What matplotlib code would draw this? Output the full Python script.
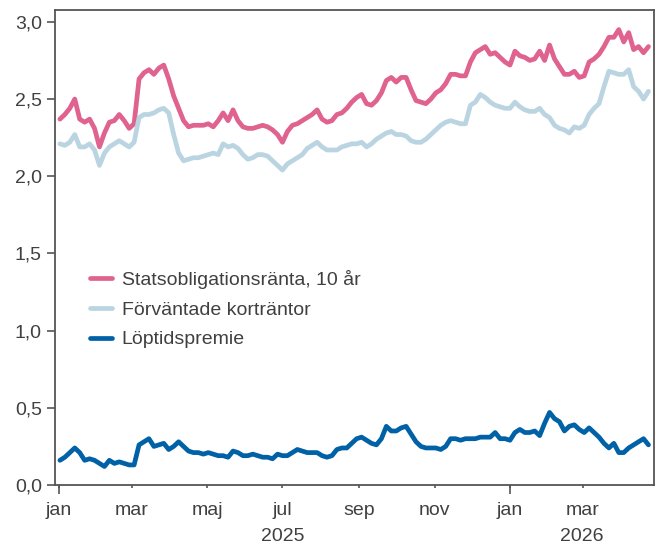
import matplotlib
matplotlib.use('Agg')
import matplotlib.pyplot as plt
import matplotlib.transforms as mtransforms
from matplotlib.ticker import FuncFormatter
import pandas as pd

plt.rcParams['font.family'] = ['Liberation Sans', 'DejaVu Sans']

##############################################
##                  Data                    ##
##############################################
# observations every fourth day, 2 Jan 2025 - 23 Apr 2026
dates = pd.date_range('2025-01-02', periods=120, freq='4D')

statsobligation = [
    2.37, 2.40, 2.44, 2.50, 2.37, 2.35, 2.37, 2.31, 2.19, 2.28,
    2.35, 2.36, 2.40, 2.36, 2.31, 2.34, 2.63, 2.67, 2.69, 2.66,
    2.70, 2.72, 2.63, 2.52, 2.44, 2.36, 2.32, 2.33, 2.33, 2.33,
    2.34, 2.32, 2.36, 2.41, 2.36, 2.43, 2.36, 2.32, 2.31, 2.31,
    2.32, 2.33, 2.32, 2.30, 2.27, 2.22, 2.29, 2.33, 2.34, 2.36,
    2.38, 2.40, 2.43, 2.37, 2.35, 2.36, 2.40, 2.41, 2.44, 2.48,
    2.51, 2.53, 2.47, 2.46, 2.49, 2.54, 2.62, 2.64, 2.61, 2.64,
    2.64, 2.56, 2.49, 2.48, 2.47, 2.50, 2.54, 2.56, 2.60, 2.66,
    2.66, 2.65, 2.65, 2.74, 2.80, 2.82, 2.84, 2.79, 2.80, 2.77,
    2.74, 2.72, 2.81, 2.78, 2.77, 2.75, 2.76, 2.81, 2.75, 2.85,
    2.76, 2.71, 2.66, 2.66, 2.68, 2.64, 2.65, 2.74, 2.76, 2.79,
    2.84, 2.90, 2.90, 2.95, 2.87, 2.93, 2.82, 2.84, 2.80, 2.84,
]

korta_rantor = [
    2.21, 2.20, 2.22, 2.27, 2.19, 2.19, 2.21, 2.17, 2.07, 2.15,
    2.19, 2.21, 2.23, 2.21, 2.19, 2.22, 2.38, 2.40, 2.40, 2.41,
    2.43, 2.44, 2.41, 2.27, 2.15, 2.10, 2.11, 2.12, 2.12, 2.13,
    2.14, 2.15, 2.14, 2.21, 2.19, 2.20, 2.18, 2.14, 2.11, 2.12,
    2.14, 2.14, 2.13, 2.10, 2.07, 2.04, 2.08, 2.10, 2.12, 2.14,
    2.18, 2.20, 2.22, 2.19, 2.17, 2.17, 2.17, 2.19, 2.20, 2.21,
    2.21, 2.22, 2.19, 2.21, 2.24, 2.26, 2.28, 2.29, 2.27, 2.27,
    2.26, 2.23, 2.22, 2.22, 2.24, 2.27, 2.30, 2.33, 2.35, 2.36,
    2.35, 2.34, 2.34, 2.46, 2.48, 2.53, 2.51, 2.48, 2.46, 2.45,
    2.44, 2.44, 2.48, 2.45, 2.43, 2.42, 2.42, 2.44, 2.40, 2.38,
    2.33, 2.31, 2.30, 2.28, 2.32, 2.31, 2.33, 2.40, 2.44, 2.47,
    2.58, 2.68, 2.67, 2.66, 2.66, 2.69, 2.58, 2.55, 2.50, 2.55,
]

loptidspremie = [
    0.16, 0.18, 0.21, 0.24, 0.21, 0.16, 0.17, 0.16, 0.14, 0.12,
    0.16, 0.14, 0.15, 0.14, 0.13, 0.13, 0.26, 0.28, 0.30, 0.25,
    0.26, 0.27, 0.23, 0.25, 0.28, 0.25, 0.22, 0.21, 0.21, 0.20,
    0.21, 0.20, 0.19, 0.19, 0.18, 0.22, 0.21, 0.19, 0.19, 0.20,
    0.19, 0.18, 0.18, 0.17, 0.20, 0.19, 0.19, 0.21, 0.23, 0.22,
    0.21, 0.21, 0.21, 0.19, 0.18, 0.19, 0.23, 0.24, 0.24, 0.27,
    0.30, 0.31, 0.29, 0.27, 0.26, 0.30, 0.38, 0.35, 0.35, 0.37,
    0.38, 0.33, 0.28, 0.25, 0.24, 0.24, 0.24, 0.23, 0.25, 0.30,
    0.30, 0.29, 0.30, 0.30, 0.30, 0.31, 0.31, 0.31, 0.34, 0.30,
    0.30, 0.29, 0.34, 0.36, 0.34, 0.34, 0.35, 0.32, 0.40, 0.47,
    0.43, 0.41, 0.35, 0.38, 0.39, 0.36, 0.34, 0.37, 0.34, 0.31,
    0.27, 0.24, 0.27, 0.21, 0.21, 0.24, 0.26, 0.28, 0.30, 0.26,
]

labels = ['Statsobligationsränta, 10 år', 'Förväntade korträntor', 'Löptidspremie']

month_ticks = pd.to_datetime(['2025-01-01', '2025-03-01', '2025-05-01', '2025-07-01',
                              '2025-09-01', '2025-11-01', '2026-01-01', '2026-03-01'])
month_labels = ['jan', 'mar', 'maj', 'jul', 'sep', 'nov', 'jan', 'mar']
year_ticks = pd.to_datetime(['2025-01-01', '2026-01-01'])
year_labels = ['2025', '2026']
y_ticks = [0.0, 0.5, 1.0, 1.5, 2.0, 2.5, 3.0]

##############################################
##                  Plot                    ##
##############################################
text_col = '#404040'
spine_col = '#555555'
fs = 14

fig = plt.figure(figsize=(6.56, 5.46), dpi=100)
ax = fig.add_axes([0.0838, 0.1117, 0.9132, 0.8709])

ax.plot(dates, statsobligation, color='#e0628e', lw=3.4, label=labels[0], solid_capstyle='round')
ax.plot(dates, korta_rantor, color='#bad5e1', lw=3.4, label=labels[1], solid_capstyle='round')
ax.plot(dates, loptidspremie, color='#0061a7', lw=3.4, label=labels[2], solid_capstyle='round')

x0, x1 = pd.Timestamp('2024-12-29'), pd.Timestamp('2026-04-27 12:00')
ax.set_xlim(x0, x1)
ax.set_ylim(0, 3.08)

ax.set_yticks(y_ticks)
ax.yaxis.set_major_formatter(FuncFormatter(lambda v, p: f'{v:.1f}'.replace('.', ',')))

ax.set_xticks(month_ticks)
ax.set_xticklabels(month_labels)
ax.set_xticks(year_ticks, minor=True)
ax.xaxis.remove_overlapping_locs = False

for s in ax.spines.values():
    s.set_color(spine_col)
    s.set_linewidth(1.3)

ax.tick_params(axis='y', length=6, width=1.2, color=spine_col, labelcolor=text_col,
               labelsize=fs, pad=3.5)
ax.tick_params(axis='x', which='major', length=2.2, width=1.2, color=spine_col,
               labelcolor=text_col, labelsize=fs, pad=10)
ax.tick_params(axis='x', which='minor', length=6.5, width=1.2, color=spine_col)

# year labels centred under the visible part of each year
trans = mtransforms.blended_transform_factory(ax.transData, ax.transAxes)
bounds = [x0, year_ticks[1], x1]
for i, yl in enumerate(year_labels):
    mid = bounds[i] + (bounds[i + 1] - bounds[i]) / 2
    ax.text(mid, -0.1255, yl, transform=trans, ha='center', va='bottom',
            fontsize=fs, color=text_col)

ax.legend(loc='upper left', bbox_to_anchor=(0.058, 0.452), frameon=False,
          fontsize=fs, handlelength=1.13, handletextpad=0.52, labelspacing=0.62,
          borderpad=0, borderaxespad=0, labelcolor=text_col)

plt.savefig('out.png', dpi=100)
